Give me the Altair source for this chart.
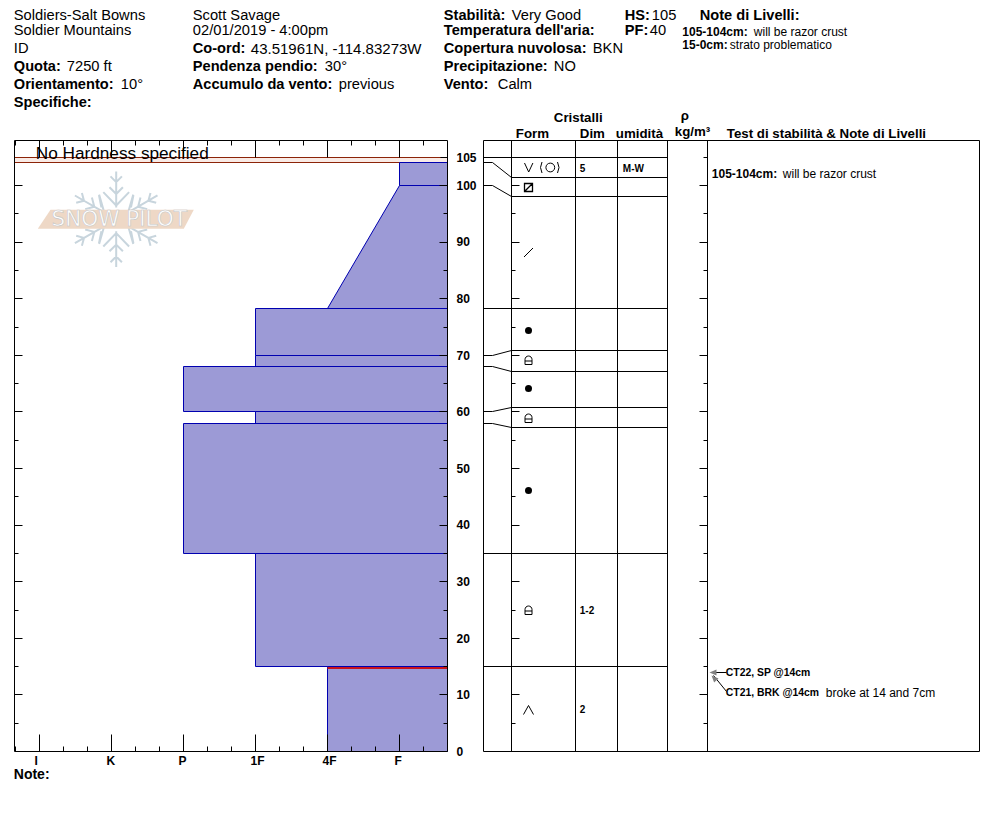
import math
import altair as alt
import pandas as pd

FONT = "Liberation Sans"
PX = 8    # page margin on the left: layout below is in page pixels
PY = 18   # page margin plus the chart's own top padding

# ---------- values ----------
LAYER_TOP_CM = [104, 100, 78.2, 70, 68, 60, 58, 35, 15]
LAYER_BOT_CM = [100, 78.2, 70, 68, 60, 58, 35, 15, 0]
HARD_AT_TOP = [5, 5, 3, 3, 2, 3, 2, 3, 4]
HARD_AT_BOT = [5, 4, 3, 3, 2, 3, 2, 3, 4]
HARD_LABELS = ["I", "K", "P", "1F", "4F", "F"]
HEIGHT_LABELS = [105, 100, 90, 80, 70, 60, 50, 40, 30, 20, 10, 0]
PROBLEM_CM = 14.7

ROWS_STRAIGHT = [105, 78.2, 35, 15]
CONN_LEFT = [104, 100, 70, 68, 60, 58]
CONN_RIGHT = [101.5, 98, 70.9, 67.2, 60.8, 57.3]

GLYPH_CM = {"vo": [103.2], "box": [99.6], "slash": [88.1], "lock": [69, 58.9, 24.9], "caret": [7.4]}
DOT_CM = [74.4, 64.2, 46.2]
ARROW_TIP_CM = [14, 13.4]

# ---------- layout ----------
HARD_MIN, HARD_MAX = -0.35, 5.67
Y_TOP_CM = 107.95
COLS = [483, 511, 575, 617, 667, 707, 979]
HARD_X = alt.Scale(domain=[0, 5], range=[39 - PX, 399 - PX], zero=False, nice=False, round=True)
TAB_X = alt.Scale(domain=[0, 972], range=[-PX, 972 - PX], zero=False, nice=False, round=True)
Y = alt.Scale(domain=[0, 100], range=[751 - PY, 185 - PY], zero=False, nice=False, round=True)


def hx(f="x"):
    return alt.X(f"{f}:Q", scale=HARD_X, axis=None, stack=False)


def tx(f="x"):
    return alt.X(f"{f}:Q", scale=TAB_X, axis=None)


def yy(f="y"):
    return alt.Y(f"{f}:Q", scale=Y, axis=None)


BLACK = "#000000"
layers = []


def text(items, size, weight="normal", color=BLACK, align="left"):
    df = pd.DataFrame(
        [{"t": t, "x": x - PX - 0.7, "y": y - PY + 0.7} for t, x, y in items]
    )
    layers.append(
        alt.Chart(df)
        .mark_text(font=FONT, fontSize=size, fontWeight=weight, align=align, baseline="middle", color=color)
        .encode(
            x=alt.X("x:Q", scale=None, axis=None),
            y=alt.Y("y:Q", scale=None, axis=None),
            text="t:N",
        )
    )


# ---------- watermark ----------
def rot(p, a):
    c, s = math.cos(a), math.sin(a)
    return (p[0] * c - p[1] * s, p[0] * s + p[1] * c)


def flake(R=47.7):
    spine = [((0, 0.25), (0, 1.0))]
    chevrons = [(0.29, 0.57, 0.27), (0.53, 0.67, 0.14), (0.78, 0.90, 0.12)]
    segs = list(spine)
    for base, r, w in chevrons:
        segs += [((0, base), (-w, r)), ((0, base), (w, r))]
    out = []
    for k in range(6):
        a = k * math.pi / 3
        for p, q in segs:
            P, Q = rot(p, a), rot(q, a)
            out.append(f"M{P[0]*R:.1f},{P[1]*R:.1f} L{Q[0]*R:.1f},{Q[1]*R:.1f}")
    for sx in (-1, 1):
        for sy in (-1, 1):
            out.append(f"M{sx*.36*R:.1f},{sy*.5*R:.1f} L{sx*.31*R:.1f},{sy*.25*R:.1f}")
    return " ".join(out)


WM_X, WM_Y = 115.7 - PX, 218.8 - PY
wm = alt.Chart(pd.DataFrame({"k": [0]}))
layers.append(
    wm.mark_point(shape=flake(), size=4, filled=False, stroke="#c8d5dd", strokeWidth=2, opacity=1)
    .encode(x=alt.value(WM_X), y=alt.value(WM_Y))
)
layers.append(
    wm.mark_point(shape="M-78.4,9.5 L-65.7,-9.5 L77.6,-9.5 L67.6,9.5 Z", size=4, filled=True,
                  fill="#eed8c6", strokeWidth=0, opacity=1)
    .encode(x=alt.value(WM_X), y=alt.value(WM_Y))
)
layers.append(
    wm.mark_text(text="SNOW PILOT", font="DejaVu Sans", fontSize=21.5, color="#ffffff", stroke="#c6c6c6",
                 strokeWidth=0.6, align="center", baseline="middle")
    .encode(x=alt.value(WM_X + 3), y=alt.value(WM_Y + 1))
)

# ---------- hardness profile ----------
band = pd.DataFrame({"x": [HARD_MIN], "x2": [HARD_MAX], "y": [105], "y2": [104]})
layers.append(
    alt.Chart(band).mark_rect(fill="#f9ebe6", opacity=1)
    .encode(x=hx(), x2="x2:Q", y=yy(), y2="y2:Q")
)
band_edges = pd.DataFrame({"x": [HARD_MIN, HARD_MIN], "x2": [HARD_MAX, HARD_MAX], "y": [105, 104]})
layers.append(
    alt.Chart(band_edges).mark_rule(color="#8c2408", strokeWidth=1, opacity=1)
    .encode(x=hx(), x2="x2:Q", y=yy())
)

poly = []
for i, (t, b, ht, hb) in enumerate(zip(LAYER_TOP_CM, LAYER_BOT_CM, HARD_AT_TOP, HARD_AT_BOT)):
    poly.append({"id": i, "y": t, "x": ht, "x2": HARD_MAX})
    poly.append({"id": i, "y": b, "x": hb, "x2": HARD_MAX})
layers.append(
    alt.Chart(pd.DataFrame(poly))
    .mark_area(orient="horizontal", fill="#9c9ad6", stroke="#0000b0", strokeWidth=1, opacity=1)
    .encode(x=hx(), x2="x2:Q", y=yy(), detail="id:N", order="id:Q")
)
layers.append(
    alt.Chart(pd.DataFrame({"x": [4], "x2": [HARD_MAX], "y": [PROBLEM_CM]}))
    .mark_rule(color="#c8141c", strokeWidth=2, yOffset=-0.5)
    .encode(x=hx(), x2="x2:Q", y=yy())
)

# hardness ticks: top and bottom edges
major = list(range(6))
minor = [k / 3 for k in range(-1, 17) if k % 3 != 0]
for vals, top_len in ((major, 17), (minor, 5)):
    d = pd.DataFrame({"x": vals})
    layers.append(alt.Chart(d).mark_rule(color=BLACK, strokeWidth=1)
                  .encode(x=hx(), y=alt.value(140 - PY), y2=alt.value(140 + top_len - PY)))
    layers.append(alt.Chart(d).mark_rule(color=BLACK, strokeWidth=1)
                  .encode(x=hx(), y=alt.value(751 - PY), y2=alt.value(751 - top_len - PY)))

# height ticks on both sides of the hardness panel and in the table
for cm_step, ln in ((10, 8), (5, 4)):
    vals = [v for v in range(5, 106, 5) if v % 10 == (0 if cm_step == 10 else 5)]
    hard_vals = [v for v in vals if v <= 100]
    d = pd.DataFrame({"y": hard_vals})
    layers.append(alt.Chart(d).mark_rule(color=BLACK, strokeWidth=1)
                  .encode(y=yy(), x=alt.value(14 - PX), x2=alt.value(14 + ln - PX)))
    layers.append(alt.Chart(d).mark_rule(color=BLACK, strokeWidth=1)
                  .encode(y=yy(), x=alt.value(447 - PX), x2=alt.value(447 - ln - PX)))
    d2 = pd.DataFrame({"y": vals})
    layers.append(alt.Chart(d2).mark_rule(color=BLACK, strokeWidth=1)
                  .encode(y=yy(), x=alt.value(COLS[1] - PX), x2=alt.value(COLS[1] + ln - PX)))
    layers.append(alt.Chart(d2).mark_rule(color=BLACK, strokeWidth=1)
                  .encode(y=yy(), x=alt.value(COLS[5] - PX), x2=alt.value(COLS[5] - ln - PX)))
layers.append(alt.Chart(pd.DataFrame({"y": [105]})).mark_rule(color=BLACK, strokeWidth=1)
              .encode(y=yy(), x=alt.value(447 - PX), x2=alt.value(440 - PX)))

# frames
frame = pd.DataFrame({"x": [HARD_MIN], "x2": [HARD_MAX], "y": [0], "y2": [Y_TOP_CM]})
layers.append(alt.Chart(frame).mark_rect(fill=None, stroke=BLACK, strokeWidth=1)
              .encode(x=hx(), x2="x2:Q", y=yy(), y2="y2:Q"))

# ---------- table ----------
cols = pd.DataFrame({"x": COLS})
layers.append(alt.Chart(cols).mark_rule(color=BLACK, strokeWidth=1)
              .encode(x=tx(), y=alt.value(140 - PY), y2=alt.value(751 - PY)))
edge = pd.DataFrame({"x": [COLS[0], COLS[0]], "x2": [COLS[-1], COLS[-1]], "y": [0, Y_TOP_CM]})
layers.append(alt.Chart(edge).mark_rule(color=BLACK, strokeWidth=1).encode(x=tx(), x2="x2:Q", y=yy()))
rows = [{"x": COLS[0], "x2": COLS[4], "y": v} for v in ROWS_STRAIGHT]
rows += [{"x": COLS[1], "x2": COLS[4], "y": v} for v in CONN_RIGHT]
layers.append(alt.Chart(pd.DataFrame(rows)).mark_rule(color=BLACK, strokeWidth=1).encode(x=tx(), x2="x2:Q", y=yy()))

conn = []
for i, (l, r) in enumerate(zip(CONN_LEFT, CONN_RIGHT)):
    conn += [{"id": i, "o": 0, "x": COLS[0], "y": l}, {"id": i, "o": 1, "x": 492, "y": l},
             {"id": i, "o": 2, "x": COLS[1], "y": r}]
layers.append(alt.Chart(pd.DataFrame(conn)).mark_line(color=BLACK, strokeWidth=1)
              .encode(x=tx(), y=yy(), detail="id:N", order="o:Q"))

# crystal glyphs
FORM_X = 528
GLYPHS = {
    "vo": ("M-18,-4.5 L-13.8,4.5 L-9.6,-4.5 M-0.5,-5.5 Q-3.5,0 -0.5,5.5 "
           "M3.4,0 A4.4,4.4 0 1 0 12.2,0 A4.4,4.4 0 1 0 3.4,0 M15,-5.5 Q18,0 15,5.5", 542, 1),
    "box": ("M-4,-4 H4 V4 H-4 Z M-4,4 L4,-4", FORM_X, 1.3),
    "slash": ("M-4.5,4.5 L4.5,-4.5", FORM_X, 1),
    "lock": ("M-3.5,4 H3.5 V-1 A3.5,3.5 0 0 0 -3.5,-1 Z M-3.5,0.5 H3.5", FORM_X, 1),
    "caret": ("M-5,5 L0,-4 L5,5", FORM_X, 1),
}
for name, (path, gx, sw) in GLYPHS.items():
    d = pd.DataFrame({"x": [gx] * len(GLYPH_CM[name]), "y": GLYPH_CM[name]})
    layers.append(alt.Chart(d).mark_point(shape=path, size=4, filled=False, stroke=BLACK, strokeWidth=sw, opacity=1)
                  .encode(x=tx(), y=yy()))
layers.append(alt.Chart(pd.DataFrame({"x": [FORM_X] * 3, "y": DOT_CM}))
              .mark_point(shape="circle", size=49, filled=True, fill=BLACK, strokeWidth=0, opacity=1)
              .encode(x=tx(), y=yy()))

# arrows of the stability tests
lines = [{"id": 0, "x": 726, "y": ARROW_TIP_CM[0]}, {"id": 0, "x": 712, "y": ARROW_TIP_CM[0]},
         {"id": 1, "x": 726, "y": 10.6}, {"id": 1, "x": 713, "y": ARROW_TIP_CM[1]}]
layers.append(alt.Chart(pd.DataFrame(lines)).mark_line(color=BLACK, strokeWidth=1)
              .encode(x=tx(), y=yy(), detail="id:N"))
for path, ax, ay in (("M0,0 L7,-3 L7,3 Z", 708.5, ARROW_TIP_CM[0]),
                     ("M0,0 L2.6,7.1 L7,3.1 Z", 710.5, ARROW_TIP_CM[1])):
    layers.append(alt.Chart(pd.DataFrame({"x": [ax], "y": [ay]}))
                  .mark_point(shape=path, size=4, filled=True, fill="#808080", strokeWidth=0, opacity=1)
                  .encode(x=tx(), y=yy()))

# ---------- text ----------
text([("No Hardness specified", 36, 152.5)], 17.2)
text([(str(v), 456.7, 750.6 - v * 5.66) for v in HEIGHT_LABELS], 12, "bold")
text([(lab, 34.8 + 72 * i, 759.5) for i, lab in enumerate(HARD_LABELS)], 12, "bold")
text([("Note:", 14, 774)], 14, "bold")

# the top row sits just low enough to stay inside the drawing area
R = [15, 30, 48, 66, 84, 102]
text([("Soldiers-Salt Bowns", 14, R[0]), ("Soldier Mountains", 14, R[1]), ("ID", 14, R[2]),
      ("7250 ft", 67, R[3]), ("10°", 121, R[4]),
      ("Scott Savage", 193, R[0]), ("02/01/2019 - 4:00pm", 193, R[1]),
      ("30°", 325, R[3]), ("previous", 339, R[4]),
      ("Very Good", 512, R[0]), ("BKN", 593, R[2]), ("NO", 554, R[3]), ("Calm", 498, R[4]),
      ("105", 652, R[0]), ("40", 650, R[1])], 14.7)
text([("43.51961N, -114.83273W", 251, R[2])], 15)
text([("Quota:", 14, R[3]), ("Orientamento:", 14, R[4]), ("Specifiche:", 14, R[5]),
      ("Co-ord:", 193, R[2]), ("Pendenza pendio:", 193, R[3]), ("Accumulo da vento:", 193, R[4]),
      ("Stabilità:", 444, R[0]), ("Temperatura dell'aria:", 444, R[1]), ("Copertura nuvolosa:", 444, R[2]),
      ("Precipitazione:", 444, R[3]), ("Vento:", 444, R[4]),
      ("HS:", 625, R[0]), ("PF:", 625, R[1]), ("Note di Livelli:", 700, R[0])], 14.6, "bold")
text([("105-104cm:", 682.5, 31), ("15-0cm:", 682.5, 44)], 12, "bold")
text([("will be razor crust", 754, 31), ("strato problematico", 730, 44)], 12)

text([("Cristalli", 554, 117), ("Form", 516, 132.5), ("Dim", 580, 132.5), ("umidità", 616, 132.5),
      ("ρ", 681, 115), ("kg/m³", 675, 131), ("Test di stabilità & Note di Livelli", 727, 132.5)], 13.3, "bold")
text([("5", 580, 168), ("M-W", 623, 168), ("1-2", 580, 610), ("2", 580, 709)], 10, "bold")
text([("105-104cm:", 712, 173), ], 12, "bold")
text([("will be razor crust", 783, 173), ("broke at 14 and 7cm", 826, 691.5)], 12)
text([("CT22, SP @14cm", 726, 672), ("CT21, BRK @14cm", 726, 691.5)], 10.4, "bold")

chart = (
    alt.layer(*layers)
    .resolve_scale(x="independent")
    .properties(width=972, height=800,
                padding={"left": 0.5, "top": 10.5, "right": 0, "bottom": 0},
                autosize=alt.AutoSizeParams(type="none"), background="white")
    .configure_view(stroke=None)
)
chart.save("out.html", embed_options={"renderer": "svg", "actions": False})
